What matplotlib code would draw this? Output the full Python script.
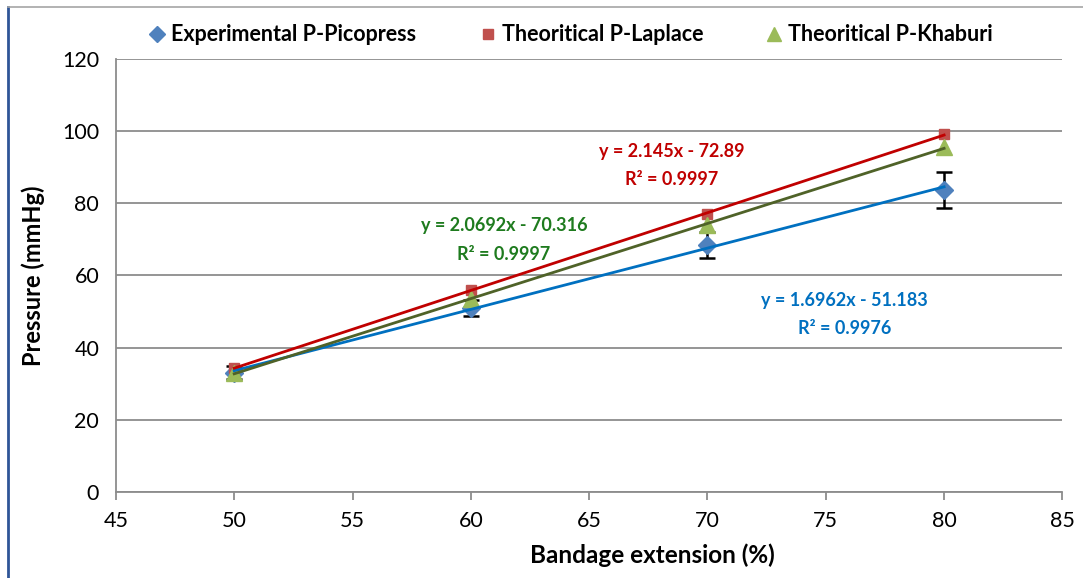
import numpy as np
import matplotlib.pyplot as plt
from matplotlib.lines import Line2D

plt.rcParams['font.family'] = ['Lato', 'DejaVu Sans']

# Datos
extension = [50, 60, 70, 80]
p_picopress = [33.0, 51.0, 68.5, 83.8]
err_picopress = [1.8, 2.3, 3.6, 5.0]
p_laplace = [34.4, 55.9, 76.9, 99.2]
p_khaburi = [32.9, 53.5, 74.0, 95.5]

nombres = ["Experimental P-Picopress", "Theoritical P-Laplace", "Theoritical P-Khaburi"]
ecuaciones = ["y = 1.6962x - 51.183\nR² = 0.9976",
              "y = 2.145x - 72.89\nR² = 0.9997",
              "y = 2.0692x - 70.316\nR² = 0.9997"]

fig = plt.figure(figsize=(10.83, 5.78), dpi=100)
ax = fig.add_axes([0.107, 0.149, 0.874, 0.749])

x = np.array(extension)

# Lineas de tendencia (ajuste lineal)
series = [(p_picopress, '#0070C0'), (p_laplace, '#C00000'), (p_khaburi, '#4F6228')]
for vals, col in series:
    m, b = np.polyfit(x, vals, 1)
    ax.plot(x, m * x + b, color=col, lw=2, zorder=3)

ax.errorbar(x, p_picopress, yerr=err_picopress, fmt='none', ecolor='black',
            elinewidth=1.8, capsize=6, capthick=1.8, zorder=2)
ax.plot(x, p_picopress, 'D', color='#4F81BD', ms=9, zorder=2)
ax.plot(x, p_laplace, 's', color='#C0504D', ms=7.5, zorder=2)
ax.plot(x, p_khaburi, '^', color='#9BBB59', ms=11, zorder=2)

ax.set_xlim(45, 85)
ax.set_ylim(0, 120)
ax.set_xticks(np.arange(45, 86, 5))
ax.set_yticks(np.arange(0, 121, 20))
ax.yaxis.grid(True, color='#8C8C8C', lw=1.3)
ax.set_axisbelow(True)
for s in ['top', 'right']:
    ax.spines[s].set_visible(False)
for s in ['left', 'bottom']:
    ax.spines[s].set_color('#8C8C8C')
    ax.spines[s].set_linewidth(1.3)
ax.tick_params(axis='both', colors='#8C8C8C', labelcolor='black', labelsize=15.5,
               length=6, width=1.3)
ax.tick_params(axis='y', length=0, pad=12)
ax.tick_params(axis='x', pad=8)

ax.set_xlabel("Bandage extension (%)", fontsize=17.5, fontweight='bold', va='center')
ax.xaxis.set_label_coords(0.567, -0.146)
ax.set_ylabel("Pressure (mmHg)", fontsize=17, fontweight='bold', labelpad=12)

# Ecuaciones
kw = dict(fontsize=13, fontweight='bold', ha='center', va='center', linespacing=1.8)
ax.text(75.8, 49.1, ecuaciones[0], color='#0070C0', **kw)
ax.text(68.5, 90.4, ecuaciones[1], color='#C00000', **kw)
ax.text(61.4, 69.8, ecuaciones[2], color='#1E7B1E', **kw)

handles = [Line2D([], [], ls='none', marker='D', color='#4F81BD', ms=8),
           Line2D([], [], ls='none', marker='s', color='#C0504D', ms=7),
           Line2D([], [], ls='none', marker='^', color='#9BBB59', ms=10)]
fig.legend(handles, nombres, loc='center', bbox_to_anchor=(0.527, 0.94), ncol=3,
           frameon=False, handlelength=0.8, handletextpad=0.25, columnspacing=2.9,
           prop={'size': 15.5, 'weight': 'bold'})

# Borde del grafico
fig.add_artist(Line2D([0.0075, 0.0075], [0, 0.988], color='#2F5597', lw=2))
fig.add_artist(Line2D([0.0075, 1], [0.988, 0.988], color='#A6A6A6', lw=1.2))

fig.savefig('out.png', dpi=100)
